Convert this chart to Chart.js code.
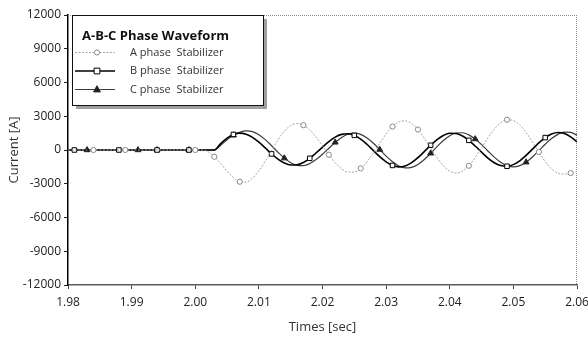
<!DOCTYPE html>
<html>
<head>
<meta charset="utf-8">
<script src="https://cdn.jsdelivr.net/npm/chart.js@4/dist/chart.umd.min.js"></script>
<style>
  html, body { margin: 0; padding: 0; background: #fff; }
  #wrap { width: 588px; height: 340px; position: relative; }
</style>
</head>
<body>
<div id="wrap"><canvas id="c" width="588" height="340"></canvas></div>
<script>
// ---- data ----
const legendTitle = 'A-B-C Phase Waveform';
const seriesNames = ['A phase  Stabilizer', 'B phase  Stabilizer', 'C phase  Stabilizer'];

const times = [
  1.980,1.981,1.982,1.983,1.984,1.985,1.986,1.987,1.988,1.989,
  1.990,1.991,1.992,1.993,1.994,1.995,1.996,1.997,1.998,1.999,
  2.000,2.001,2.002,2.003,2.004,2.005,2.006,2.007,2.008,2.009,
  2.010,2.011,2.012,2.013,2.014,2.015,2.016,2.017,2.018,2.019,
  2.020,2.021,2.022,2.023,2.024,2.025,2.026,2.027,2.028,2.029,
  2.030,2.031,2.032,2.033,2.034,2.035,2.036,2.037,2.038,2.039,
  2.040,2.041,2.042,2.043,2.044,2.045,2.046,2.047,2.048,2.049,
  2.050,2.051,2.052,2.053,2.054,2.055,2.056,2.057,2.058,2.059,
  2.060
];

const phaseA = [
  0,0,0,0,0,0,0,0,0,0,
  0,0,0,0,0,0,0,0,0,0,
  0,0,-150,-600,-1200,-1900,-2450,-2820,-2855,-2507,
  -1856,-992,-33,896,1665,2174,2350,2202,1782,1145,
  375,-419,-1134,-1674,-1963,-1959,-1639,-1046,-259,604,
  1425,2087,2494,2593,2358,1821,1059,187,-676,-1401,
  -1880,-2050,-1881,-1402,-677,190,1078,1857,2420,2686,
  2617,2227,1565,726,-176,-1015,-1677,-2067,-2140,-2050,
  -1900
];

const phaseB = [
  0,0,0,0,0,0,0,0,0,0,
  0,0,0,0,0,0,0,0,0,0,
  0,0,0,0,574,1061,1386,1500,1402,1119,
  693,182,-345,-813,-1159,-1334,-1315,-1106,-740,-262,
  259,750,1145,1387,1446,1301,968,493,-53,-596,
  -1059,-1372,-1499,-1413,-1128,-683,-142,420,922,1294,
  1484,1463,1243,857,354,-195,-713,-1128,-1384,-1446,
  -1299,-960,-477,79,631,1102,1420,1549,1462,1169,
  711
];

const phaseC = [
  0,0,0,0,0,0,0,0,0,0,
  0,0,0,0,0,0,0,0,0,0,
  0,0,0,0,423,911,1311,1581,1697,1632,
  1362,925,381,-196,-724,-1130,-1361,-1384,-1206,-853,
  -378,159,679,1113,1400,1500,1390,1077,604,38,
  -541,-1050,-1417,-1591,-1545,-1285,-846,-293,301,846,
  1270,1509,1533,1346,975,475,-89,-637,-1093,-1395,
  -1500,-1393,-1086,-623,-66,507,1016,1392,1583,1560,
  1318
];

// times at which each series shows a marker
const markersA = [1.984,1.989,2.000,2.003,2.007,2.017,2.021,2.026,2.031,2.035,2.043,2.049,2.054,2.059];
const markersB = [1.981,1.988,1.994,1.999,2.006,2.012,2.018,2.025,2.031,2.037,2.043,2.049,2.055];
const markersC = [1.983,1.991,1.994,1.999,2.006,2.014,2.022,2.029,2.037,2.044,2.052];

const xTicks = [1.98,1.99,2.00,2.01,2.02,2.03,2.04,2.05,2.06];
const yTicks = [-12000,-9000,-6000,-3000,0,3000,6000,9000,12000];
const xTitle = 'Times [sec]';
const yTitle = 'Current [A]';

// ---- chart ----
const FONT = '"Open Sans", "Noto Sans", sans-serif';

function pts(values) { return values.map((v, i) => ({ x: times[i], y: v })); }
function radii(marks, r) { return times.map(t => marks.includes(t) ? r : 0); }

const datasets = [
  {
    label: seriesNames[0], data: pts(phaseA),
    borderColor: '#a4a4a4', borderWidth: 1, borderDash: [2, 1.5],
    pointStyle: 'circle', pointRadius: radii(markersA, 2.6), mRadius: 2.6,
    pointBackgroundColor: '#fff', pointBorderColor: '#8a8a8a', pointBorderWidth: 1
  },
  {
    label: seriesNames[1], data: pts(phaseB),
    borderColor: '#000', borderWidth: 1.6, borderDash: [],
    pointStyle: 'rect', pointRadius: radii(markersB, 3.2), mRadius: 3.2,
    pointBackgroundColor: '#fff', pointBorderColor: '#000', pointBorderWidth: 1
  },
  {
    label: seriesNames[2], data: pts(phaseC),
    borderColor: '#3c3c3c', borderWidth: 1.2, borderDash: [],
    pointStyle: 'triangle', pointRadius: radii(markersC, 3.4), mRadius: 3.4,
    pointBackgroundColor: '#222', pointBorderColor: '#222', pointBorderWidth: 1
  }
];

function drawMarker(ctx, style, r, x, y, fill, stroke) {
  ctx.save();
  ctx.setLineDash([]);
  ctx.fillStyle = fill; ctx.strokeStyle = stroke; ctx.lineWidth = 1;
  ctx.beginPath();
  if (style === 'rect') {
    const s = r * 0.9;
    ctx.rect(x - s, y - s, 2 * s, 2 * s);
  } else if (style === 'triangle') {
    ctx.moveTo(x, y - r * 1.1);
    ctx.lineTo(x + r, y + r * 0.7);
    ctx.lineTo(x - r, y + r * 0.7);
    ctx.closePath();
  } else {
    ctx.arc(x, y, r, 0, Math.PI * 2);
  }
  ctx.fill(); ctx.stroke();
  ctx.restore();
}

const framePlugin = {
  id: 'frame',
  beforeDatasetsDraw(chart) {
    const { ctx, chartArea: a } = chart;
    ctx.save();
    ctx.strokeStyle = '#8c8c8c';
    ctx.lineWidth = 1;
    ctx.setLineDash([1, 1]);
    ctx.beginPath();
    ctx.moveTo(a.left, a.top + 0.5); ctx.lineTo(a.right, a.top + 0.5);
    ctx.moveTo(a.right - 0.5, a.top); ctx.lineTo(a.right - 0.5, a.bottom);
    ctx.stroke();
    ctx.restore();
  }
};

const boxLegend = {
  id: 'boxLegend',
  afterDraw(chart) {
    const ctx = chart.ctx;
    const a = chart.chartArea;
    const x = a.left + 4, y = a.top, w = 191, h = 90;
    ctx.save();
    ctx.fillStyle = '#a0a0a0';
    ctx.fillRect(x + 4, y + 4, w, h);
    ctx.fillStyle = '#fff';
    ctx.fillRect(x, y, w, h);
    ctx.strokeStyle = '#111';
    ctx.lineWidth = 1;
    ctx.strokeRect(x + 0.5, y + 0.5, w, h);
    ctx.fillStyle = '#111';
    ctx.textBaseline = 'middle';
    ctx.textAlign = 'left';
    ctx.font = 'bold 13px ' + FONT;
    ctx.fillText(legendTitle, x + 10, y + 21);
    ctx.font = '11px ' + FONT;
    chart.data.datasets.forEach((ds, i) => {
      const ry = y + 37.5 + i * 18.5;
      ctx.save();
      ctx.strokeStyle = ds.borderColor;
      ctx.lineWidth = ds.borderWidth;
      ctx.setLineDash(ds.borderDash || []);
      ctx.beginPath();
      ctx.moveTo(x + 3, ry); ctx.lineTo(x + 43, ry);
      ctx.stroke();
      ctx.restore();
      drawMarker(ctx, ds.pointStyle, ds.mRadius, x + 25, ry, ds.pointBackgroundColor, ds.pointBorderColor);
      ctx.fillStyle = '#333';
      ctx.fillText(ds.label, x + 58, ry);
    });
    ctx.restore();
  }
};

new Chart(document.getElementById('c'), {
  type: 'line',
  data: { datasets },
  plugins: [framePlugin, boxLegend],
  options: {
    responsive: false,
    animation: false,
    devicePixelRatio: 1,
    layout: { padding: { left: 0, right: 0, top: 15, bottom: 0 } },
    elements: { line: { cubicInterpolationMode: 'monotone', fill: false } },
    plugins: { legend: { display: false }, tooltip: { enabled: false } },
    scales: {
      x: {
        type: 'linear', min: 1.98, max: 2.06,
        afterBuildTicks: s => { s.ticks = xTicks.map(v => ({ value: v })); },
        afterFit: s => { s.height = 55; s.paddingRight = 11; s.paddingLeft = 0; },
        ticks: {
          callback: v => v.toFixed(2),
          font: { family: FONT, size: 12 }, color: '#222',
          padding: 6, maxRotation: 0, autoSkip: false
        },
        grid: { drawOnChartArea: false, drawTicks: true, tickLength: 4, color: '#444' },
        border: { display: true, color: '#5a5a5a', width: 1.5 },
        title: { display: true, text: xTitle, font: { family: FONT, size: 13 }, color: '#333', padding: 5 }
      },
      y: {
        type: 'linear', min: -12000, max: 12000,
        afterBuildTicks: s => { s.ticks = yTicks.map(v => ({ value: v })); },
        afterFit: s => { s.width = 68; s.paddingTop = 0; s.paddingBottom = 0; },
        ticks: {
          callback: v => String(v),
          font: { family: FONT, size: 12 }, color: '#222', padding: 3
        },
        grid: { drawOnChartArea: false, drawTicks: true, tickLength: 4, color: '#222' },
        border: { display: true, color: '#000', width: 1.5 },
        title: { display: true, text: yTitle, font: { family: FONT, size: 13 }, color: '#333', padding: 6 }
      }
    }
  }
});
</script>
</body>
</html>
